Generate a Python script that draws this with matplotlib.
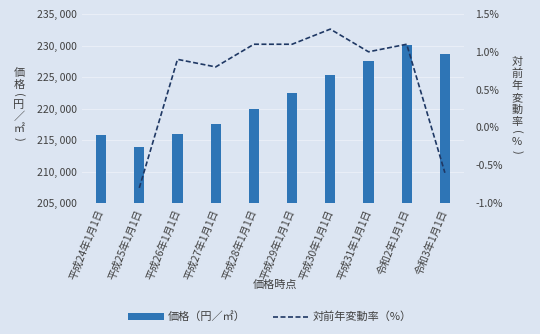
import matplotlib
matplotlib.use("Agg")
import matplotlib.pyplot as plt
import numpy as np
from matplotlib.ticker import FuncFormatter
from matplotlib.font_manager import FontProperties
from matplotlib.textpath import TextPath

plt.rcParams['font.family'] = ['Noto Sans CJK JP', 'DejaVu Sans']

categories = ["平成24年1月1日", "平成25年1月1日", "平成26年1月1日", "平成27年1月1日",
              "平成28年1月1日", "平成29年1月1日", "平成30年1月1日", "平成31年1月1日",
              "令和2年1月1日", "令和3年1月1日"]
price = [215800, 213900, 215900, 217600, 220000, 222500, 225300, 227500, 230100, 228700]
change = [np.nan, -0.8, 0.9, 0.8, 1.1, 1.1, 1.3, 1.0, 1.1, -0.6]
left_label = ["価", "格", "(", "円", "／", "㎡", ")"]
right_label = ["対", "前", "年", "変", "動", "率", "(", "%", ")"]

bg = "#dce5f2"
bar_color = "#2e75b6"
line_color = "#1f3864"
text_color = "#404040"

W, H = 540, 334
DPI = 100
fig = plt.figure(figsize=(W/DPI, H/DPI), dpi=DPI, facecolor=bg)
ax = fig.add_axes([82/W, 1-203/H, (464-82)/W, (203-14)/H], facecolor=bg)
x = np.arange(len(categories))
ax.bar(x, price, width=0.27, color=bar_color, zorder=3, label="価格（円／㎡）")
ax.set_ylim(205000, 235000)
ax.set_yticks(np.arange(205000, 235001, 5000))
ax.yaxis.set_major_formatter(FuncFormatter(lambda v, p: f"{int(v):,}".replace(",", ", ")))
ax.set_xlim(-0.5, len(categories) - 0.5)
ax.set_xticks(x)
ax.set_xticklabels(categories, rotation=68, ha='right', va='center', rotation_mode='anchor',
                   fontsize=4.0, color=text_color)
ax.grid(axis='y', color='#e9eef7', linewidth=0.8, zorder=0)
for s in ax.spines.values():
    s.set_visible(False)
ax.tick_params(axis='both', length=0, colors=text_color, labelsize=7.5)
ax.tick_params(axis='x', pad=5)

ax2 = ax.twinx()
ax2.plot(x, change, color=line_color, linestyle=(0, (3, 1.5)), linewidth=1.2, zorder=4, label="対前年変動率（%）")
ax2.set_ylim(-1.0, 1.5)
ax2.set_yticks(np.arange(-1.0, 1.51, 0.5))
ax2.yaxis.set_major_formatter(FuncFormatter(lambda v, p: f"{v:.1f}%"))
for s in ax2.spines.values():
    s.set_visible(False)
ax2.tick_params(axis='y', length=0, colors=text_color, labelsize=7.5, pad=8)

FS = 8
fp = FontProperties(family='Noto Sans CJK JP', size=FS)
px_per_pt = DPI / 72.0


def vertical_text(chars, xpix, ytop):
    y = ytop
    for c in chars:
        paren = c in "()"
        step = 8 if paren else 12
        yc = y + step / 2
        if paren:
            ext = TextPath((0, 0), c, prop=fp).get_extents()
            uc = (ext.x0 + ext.x1) / 2
            vc = (ext.y0 + ext.y1) / 2
            # rotation -90: (u, v) -> (v, -u); place ink centre at (xpix, yc)
            X = xpix - vc * px_per_pt
            Y = (H - yc) + uc * px_per_pt
            fig.text(X/W, Y/H, c, ha='left', va='baseline', rotation=-90,
                     rotation_mode='anchor', fontproperties=fp, color=text_color)
        else:
            fig.text(xpix/W, 1-yc/H, c, ha='center', va='center',
                     fontsize=FS, color=text_color)
        y += step


vertical_text(left_label, 19, 67)
vertical_text(right_label, 517, 56)

fig.text(275/W, 1-285/H, "価格時点", ha='center', va='center', fontsize=8, color=text_color)

h1, l1 = ax.get_legend_handles_labels()
h2, l2 = ax2.get_legend_handles_labels()
fig.legend(h1 + h2, l1 + l2, loc='center', bbox_to_anchor=(270/W, 1-317/H), ncol=2,
           frameon=False, fontsize=8, handlelength=3.2, columnspacing=2.4, handletextpad=0.4,
           labelcolor=text_color)

fig.savefig("out.png", dpi=DPI, facecolor=bg)
